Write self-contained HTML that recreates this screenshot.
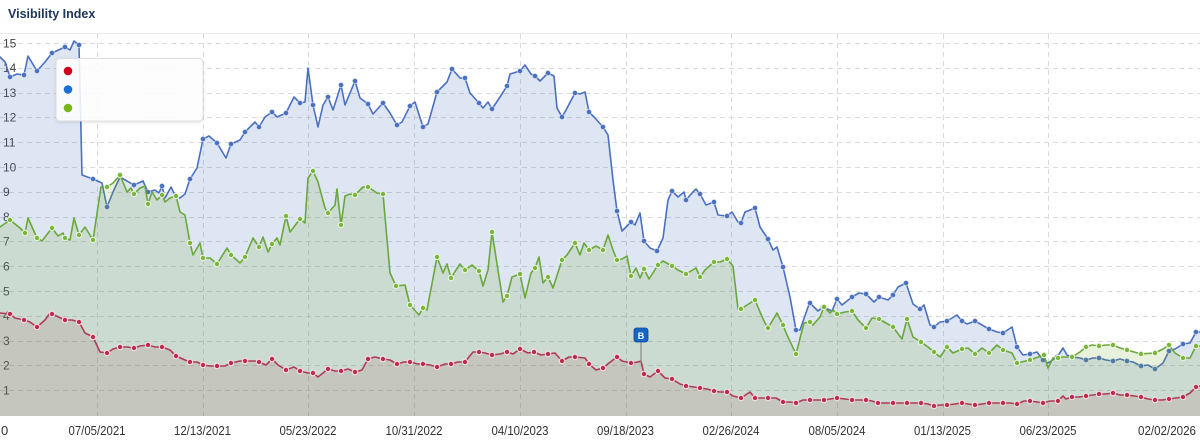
<!DOCTYPE html>
<html><head><meta charset="utf-8">
<style>
html,body{margin:0;padding:0;background:#fff;}
body{width:1200px;height:440px;overflow:hidden;font-family:"Liberation Sans",Arial,sans-serif;}
svg{display:block;}
</style></head>
<body>
<svg id="c" width="1200" height="440" viewBox="0 0 1200 440" xmlns="http://www.w3.org/2000/svg">
<defs>
<filter id="sh" x="-10%" y="-10%" width="130%" height="140%"><feDropShadow dx="0" dy="1" stdDeviation="1.5" flood-color="#000" flood-opacity="0.12"/></filter>
</defs>
<text x="8" y="18" font-family="Liberation Sans, Arial, sans-serif" font-size="12.5" font-weight="bold" fill="#1d3557">Visibility Index</text>
<line x1="0" y1="33.5" x2="1200" y2="33.5" stroke="#e8e8e8" stroke-width="1"/>
<g id="grid"></g>
<g id="ylab" font-family="Liberation Sans, Arial, sans-serif" font-size="12" fill="#444"></g>
<g id="series"></g>
<g id="xlab" font-family="Liberation Sans, Arial, sans-serif" font-size="13" fill="#333"></g>
<g id="flag">
<line x1="641" y1="342" x2="641" y2="363" stroke="#8a8a8a" stroke-width="1.2"/>
<rect x="634" y="328" width="14" height="14" rx="2.5" fill="#1664c4" stroke="#0d4a99" stroke-width="0.8"/>
<text x="641" y="338.8" text-anchor="middle" font-family="Liberation Sans, Arial, sans-serif" font-size="9" font-weight="bold" fill="#fff">B</text>
</g>
<g id="tip">
<rect x="56" y="58.5" width="147" height="62.5" rx="4" fill="rgba(255,255,255,0.86)" stroke="#dedede" stroke-width="1" filter="url(#sh)"/>
<circle cx="68" cy="71" r="4.3" fill="#d0021b"/>
<circle cx="68" cy="89.5" r="4.3" fill="#1a6fd6"/>
<circle cx="68" cy="108" r="4.3" fill="#79b51c"/>
</g>
</svg>
<script>
(function(){
var ns='http://www.w3.org/2000/svg';
function el(tag,attrs,parent){var e=document.createElementNS(ns,tag);for(var k in attrs)e.setAttribute(k,attrs[k]);if(parent)parent.appendChild(e);return e;}
var grid=document.getElementById('grid'),ylab=document.getElementById('ylab'),xlab=document.getElementById('xlab'),series=document.getElementById('series');
function Y(v){return 415-v*24.8;}
for(var v=1;v<=15;v++){
  var yy=Math.round(Y(v))+0.5;
  el('line',{x1:0,y1:yy,x2:1200,y2:yy,stroke:'#dadada','stroke-width':1,'stroke-dasharray':'5,4'},grid);
  var t=el('text',{x:3,y:(Y(v)+4.3).toFixed(1)},ylab);t.textContent=String(v);
}
var xs=[97,202.5,308,414,520,625.5,731,837,942.5,1048];
var xl=['07/05/2021','12/13/2021','05/23/2022','10/31/2022','04/10/2023','09/18/2023','02/26/2024','08/05/2024','01/13/2025','06/23/2025'];
for(var i=0;i<xs.length;i++){
  var x=Math.round(xs[i])+0.5;
  el('line',{x1:x,y1:34,x2:x,y2:416,stroke:'#dadada','stroke-width':1,'stroke-dasharray':'5,4'},grid);
  var t=el('text',{x:xs[i],y:435,'text-anchor':'middle',textLength:57,lengthAdjust:'spacingAndGlyphs'},xlab);t.textContent=xl[i];
}
var t0=el('text',{x:1,y:435},xlab);t0.textContent='0';
var tl=el('text',{x:1138,y:435,textLength:58,lengthAdjust:'spacingAndGlyphs'},xlab);tl.textContent='02/02/2026';

var blue=[[0,57],[5,62],[10,77,1],[17,74],[24,75,1],[28,56],[37,71,1],[45,62],[52,53,1],[65,47,1],[70,50],[74,41],[79,45,1],[82,175],[93,179,1],[102,183],[107,207,1],[113,192],[120,177],[134,185,1],[143,181],[148,192,1],[155,190],[159,193],[162,186,1],[165,198],[171,187],[176,197,1],[180,198],[185,194],[190,179,1],[197,168],[203,139,1],[209,136],[217,143,1],[226,158],[231,144,1],[240,140],[245,132,1],[255,122],[259,127,1],[265,117],[272,112,1],[277,117],[286,113,1],[294,97],[300,103,1],[305,102],[308,68],[313,105,1],[318,127],[323,105],[328,97,1],[333,110],[341,85,1],[345,105],[355,81,1],[360,98],[368,104,1],[373,114],[383,103,1],[390,113],[397,125,1],[402,122],[410,106,1],[415,102],[423,127,1],[428,124],[437,92,1],[447,82],[452,69,1],[460,78],[465,78,1],[470,93],[479,103,1],[483,108],[488,102],[492,109,1],[500,97],[507,86,1],[510,74],[520,71,1],[525,65],[531,74],[535,76,1],[540,81],[548,73,1],[554,76],[557,108],[562,117,1],[566,110],[575,93,1],[580,94],[585,92],[589,112,1],[595,118],[603,127,1],[608,135],[613,180],[617,211,1],[622,231],[631,222,1],[635,225],[640,213],[644,241,1],[650,248],[657,251,1],[663,238],[668,200],[672,191,1],[678,197],[684,192],[686,200,1],[692,193],[696,189],[700,194,1],[706,205],[714,202,1],[718,215],[727,216,1],[732,212],[738,222],[741,223,1],[745,212],[755,208,1],[760,227],[768,239,1],[773,250],[777,247],[783,267,1],[790,297],[796,330,1],[800,330],[808,307],[810,303,1],[818,311],[823,307,1],[832,311],[837,299,1],[842,305],[852,297,1],[859,293],[866,294,1],[874,302],[879,297,1],[888,300],[893,295,1],[898,287],[906,283,1],[913,304],[920,309,1],[924,305],[930,325],[934,327,1],[940,322],[947,321,1],[957,315],[962,321,1],[967,324],[975,321,1],[982,325],[989,329,1],[997,332],[1003,333,1],[1012,327],[1017,347,1],[1023,355],[1030,354,1],[1037,352],[1043,360,1],[1048,363],[1057,357,1],[1063,348],[1067,355],[1072,357,1],[1080,358],[1086,360,1],[1093,358],[1099,358,1],[1106,360],[1113,361,1],[1120,359],[1127,361,1],[1133,362],[1141,366,1],[1148,365],[1155,369,1],[1163,363],[1169,351,1],[1175,349],[1183,344,1],[1190,343],[1196,332,1],[1200,332]];
var green=[[0,227],[10,220,1],[20,228],[25,233,1],[28,218],[37,238,1],[42,241],[52,228,1],[58,236],[63,233],[65,238,1],[70,240],[74,218],[79,235,1],[85,227],[93,240,1],[101,187],[107,187,1],[113,183],[120,175,1],[127,192],[131,188],[134,194,1],[140,188],[145,186],[148,204,1],[152,192],[157,200],[162,195,1],[165,202],[170,198],[176,196,1],[180,212],[185,215],[190,243,1],[193,255],[200,243],[203,258,1],[210,258],[217,264,1],[227,248],[231,255,1],[240,263],[245,257,1],[253,238],[259,247,1],[263,237],[268,252],[272,244,1],[277,238],[280,245],[286,216,1],[290,232],[300,219,1],[305,223],[308,178],[313,171,1],[318,182],[325,208],[328,213,1],[335,205],[337,189],[341,225,1],[345,196],[350,194],[355,195,1],[363,187],[368,187,1],[377,193],[383,194,1],[390,273],[396,286,1],[405,285],[410,305,1],[419,315],[423,308,1],[427,310],[437,257,1],[443,273],[447,264],[451,278,1],[456,270],[460,264],[465,270,1],[472,265],[479,271,1],[483,286],[488,270],[492,232,1],[500,283],[503,302],[507,296,1],[512,277],[520,274,1],[525,298],[531,273],[535,268,1],[539,257],[543,283],[548,277,1],[553,288],[562,260,1],[567,255],[575,243,1],[580,255],[584,243],[589,250,1],[596,246],[603,250,1],[608,235],[613,250],[617,260,1],[622,259],[627,256],[631,276,1],[636,268],[640,278],[644,269,1],[649,279],[658,265,1],[663,261],[672,266,1],[678,270],[686,274,1],[691,271],[696,268],[700,277,1],[705,270],[714,262,1],[720,262],[727,259,1],[733,266],[738,309],[741,309,1],[747,305],[755,300,1],[760,312],[765,323],[768,328,1],[777,313],[783,325,1],[787,335],[796,354,1],[804,323],[810,322,1],[813,325],[820,317],[824,307,1],[830,313],[833,310],[837,314,1],[845,312],[852,311,1],[858,320],[866,328,1],[872,318],[879,319,1],[886,323],[893,327,1],[902,339],[907,319,1],[913,337],[921,342,1],[928,347],[934,352,1],[940,357],[947,347,1],[953,353],[962,349,1],[968,348],[975,354,1],[982,348],[989,353,1],[997,345],[1003,350,1],[1012,353],[1017,363,1],[1030,360,1],[1044,355,1],[1048,368],[1053,358],[1058,358,1],[1063,357],[1072,357,1],[1080,352],[1086,347,1],[1092,345],[1099,346,1],[1106,345],[1113,345,1],[1120,348],[1127,350,1],[1134,352],[1141,354,1],[1155,353,1],[1163,349],[1169,345,1],[1175,353],[1183,358,1],[1190,358],[1196,346,1],[1200,346]];
var red=[[0,313],[10,314,1],[15,318],[24,320,1],[30,322],[37,327,1],[45,320],[50,313],[52,314,1],[65,320,1],[72,320],[79,322,1],[85,333],[93,337,1],[100,352],[107,353,1],[113,349],[120,347,1],[127,347],[134,348,1],[140,346],[148,345,1],[155,347],[162,347,1],[170,350],[176,356,1],[185,360],[190,362,1],[197,362],[203,365,1],[210,366],[217,366,1],[225,366],[231,363,1],[240,361],[245,361,1],[255,361],[259,362,1],[266,365],[272,359,1],[278,365],[286,370,1],[294,367],[300,371,1],[308,373],[313,373,1],[318,377],[328,369,1],[335,371],[341,371,1],[348,369],[355,372,1],[362,370],[368,359,1],[375,357],[383,359,1],[390,360],[397,364,1],[404,362],[410,362,1],[418,364],[423,364,1],[430,365],[437,367,1],[445,364],[451,364,1],[458,362],[465,362,1],[473,352],[479,352,1],[485,353],[492,355,1],[500,354],[507,352,1],[513,354],[520,349,1],[528,353],[534,352,1],[541,355],[548,354,1],[555,353],[562,361,1],[569,357],[575,357,1],[585,358],[589,364,1],[596,370],[603,368,1],[609,363],[617,357,1],[622,361],[631,363,1],[638,362],[641,361],[644,374,1],[650,377],[658,371,1],[665,378],[672,379,1],[680,384],[686,386,1],[694,387],[700,388,1],[707,389],[714,391,1],[720,392],[727,392,1],[733,396],[741,398,1],[750,392],[755,398,1],[762,398],[768,398,1],[776,398],[783,402,1],[790,402],[796,403,1],[803,400],[810,400,1],[817,400],[824,400,1],[830,399],[837,398,1],[845,399],[852,400,1],[859,400],[866,400,1],[872,401],[878,403,1],[885,403],[893,403,1],[900,403],[907,403,1],[914,403],[921,403,1],[928,404],[934,406,1],[940,405],[947,405,1],[955,404],[962,403,1],[968,404],[975,405,1],[982,404],[989,403,1],[996,403],[1003,403,1],[1010,403],[1017,404,1],[1024,401],[1030,401,1],[1037,402],[1043,403,1],[1050,401],[1058,401,1],[1063,396],[1066,399],[1072,397,1],[1079,397],[1086,396,1],[1093,395],[1099,394,1],[1106,394],[1113,393,1],[1120,395],[1127,395,1],[1134,396],[1141,397,1],[1148,399],[1155,400,1],[1162,400],[1169,399,1],[1176,398],[1183,397,1],[1190,393],[1196,387,1],[1200,386]];

function draw(data,fill,fop,line,mfill,mstroke,mr,msw){
  var g=el('g',{},series);
  var d='M'+data[0][0]+',416';
  var l='';
  for(var i=0;i<data.length;i++){d+=' L'+data[i][0]+','+data[i][1];l+=(i?' L':'M')+data[i][0]+','+data[i][1];}
  d+=' L'+data[data.length-1][0]+',416 Z';
  el('path',{d:d,fill:fill,'fill-opacity':fop,stroke:'none'},g);
  el('path',{d:l,fill:'none',stroke:line,'stroke-width':1.6,'stroke-linejoin':'round','stroke-linecap':'round'},g);
  for(var i=0;i<data.length;i++){if(data[i][2]){el('circle',{cx:data[i][0],cy:data[i][1],r:mr,fill:mfill,stroke:mstroke,'stroke-width':msw},g);}}
}
draw(blue,'#4a6fbf',0.18,'#4a70c0','#4a70c0','#dfe6f6',2.6,0.6);
draw(green,'#6eaa1e',0.16,'#6aa83a','#79b63c','#eef6df',2.7,1);
draw(red,'#963c3c',0.12,'#b23a56','#c02a4c','#fbe3ea',2.7,1);
})();
</script>
</body></html>
